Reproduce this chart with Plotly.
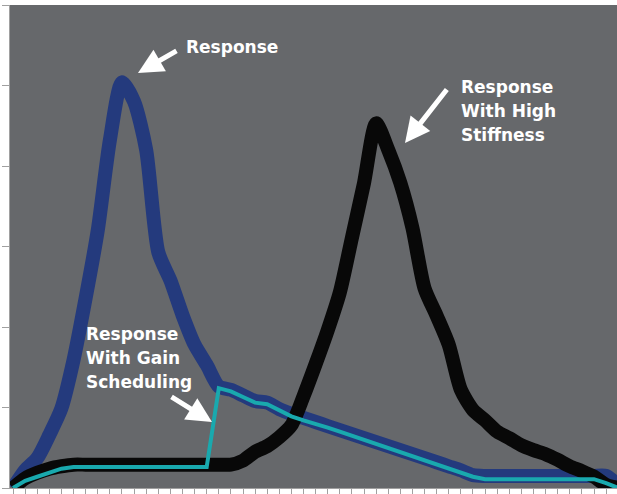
import plotly.graph_objects as go

# time index (category positions)
t = list(range(51))

response = [0, 0.22, 0.37, 0.66, 0.99, 1.59, 2.36, 3.20, 4.32, 5.04,
            4.80, 4.20, 2.93, 2.58, 2.15, 1.78, 1.53, 1.26, 1.22, 1.15,
            1.08, 1.06, 0.98, 0.92, 0.87, 0.82, 0.77, 0.72, 0.67, 0.62,
            0.57, 0.52, 0.47, 0.42, 0.37, 0.32, 0.27, 0.22, 0.16, 0.15,
            0.15, 0.15, 0.15, 0.15, 0.15, 0.15, 0.15, 0.15, 0.15, 0.15, 0.03]

high_stiffness = [0, 0.12, 0.19, 0.24, 0.27, 0.29, 0.29, 0.29, 0.29, 0.29,
                  0.29, 0.29, 0.29, 0.29, 0.29, 0.29, 0.29, 0.29, 0.29, 0.34,
                  0.45, 0.52, 0.63, 0.78, 1.14, 1.54, 1.96, 2.43, 3.11, 3.79,
                  4.53, 4.20, 3.79, 3.23, 2.48, 2.14, 1.78, 1.22, 0.97, 0.84,
                  0.70, 0.62, 0.53, 0.47, 0.42, 0.35, 0.27, 0.21, 0.14, 0.04, 0]

gain_scheduling = [0, 0.09, 0.14, 0.19, 0.24, 0.26, 0.26, 0.26, 0.26, 0.26,
                   0.26, 0.26, 0.26, 0.26, 0.26, 0.26, 0.26, 1.24, 1.20, 1.13,
                   1.06, 1.04, 0.96, 0.89, 0.84, 0.80, 0.75, 0.70, 0.65, 0.60,
                   0.55, 0.50, 0.45, 0.40, 0.35, 0.30, 0.25, 0.20, 0.14, 0.11,
                   0.11, 0.11, 0.11, 0.11, 0.11, 0.11, 0.11, 0.11, 0.11, 0.06, 0]

label_response = ["Response"]
label_stiffness = ["Response", "With High", "Stiffness"]
label_gain = ["Response", "With Gain", "Scheduling"]

fig = go.Figure()
fig.add_trace(go.Scatter(x=t, y=response, mode="lines",
                         line=dict(color="#243a7d", width=14, shape="spline", smoothing=0.7),
                         hoverinfo="skip"))
fig.add_trace(go.Scatter(x=t, y=high_stiffness, mode="lines",
                         line=dict(color="#080808", width=14, shape="spline", smoothing=0.7),
                         hoverinfo="skip"))
fig.add_trace(go.Scatter(x=t, y=gain_scheduling, mode="lines",
                         line=dict(color="#19a9ae", width=4),
                         hoverinfo="skip"))

W, H = 617, 494
L, R, T, B = 10, 0, 5, 6
pw, ph = W - L - R, H - T - B

def px(x):
    return (x - L) / pw

def py(y):
    return (H - B - y) / ph

font = dict(family="DejaVu Sans, sans-serif", size=17, color="white")

anns = []
for lines, (lx, ly) in [(label_response, (184, 47)),
                        (label_stiffness, (459, 87)),
                        (label_gain, (84, 334))]:
    for i, s in enumerate(lines):
        anns.append(dict(xref="paper", yref="paper", showarrow=False, xanchor="left",
                         yanchor="middle", align="left", font=font,
                         text="<b>" + s + "</b>", x=px(lx), y=py(ly + 24 * i)))

arrows = [((138, 73), (40, -23)), ((405, 143), (43, -55)), ((212, 422), (-42, -26))]
for (tx, ty), (ax, ay) in arrows:
    anns.append(dict(xref="paper", yref="paper", x=px(tx), y=py(ty), ax=ax, ay=ay,
                     text="", showarrow=True, arrowhead=2, arrowsize=1,
                     arrowwidth=5, arrowcolor="white", standoff=0, startstandoff=0))

fig.update_layout(
    width=W, height=H,
    margin=dict(l=L, r=R, t=T, b=B, pad=0),
    paper_bgcolor="white",
    plot_bgcolor="#66686b",
    showlegend=False,
    annotations=anns,
    xaxis=dict(range=[-0.25, 49.9], dtick=1, tick0=0, ticks="outside", ticklen=6,
               tickcolor="#a0a0a0", showticklabels=False, showgrid=False, zeroline=False,
               showline=True, linecolor="#a0a0a0", linewidth=1),
    yaxis=dict(range=[0, 6], dtick=1, ticks="outside", ticklen=7, tickcolor="#a0a0a0",
               showticklabels=False, showgrid=False, zeroline=False,
               showline=True, linecolor="#a0a0a0", linewidth=1, mirror=True),
)

fig.write_html("out.html", config={"displayModeBar": False},
               post_script="document.body.style.margin='0';document.body.style.padding='0';")
